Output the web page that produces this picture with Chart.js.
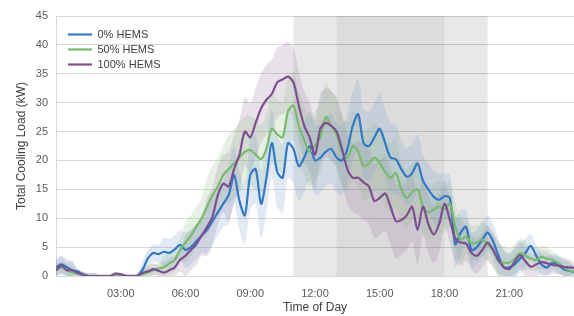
<!DOCTYPE html>
<html>
<head>
<meta charset="utf-8">
<script src="https://cdn.jsdelivr.net/npm/chart.js@4/dist/chart.umd.min.js"></script>
<style>
  html, body { margin: 0; padding: 0; background: #fff; }
  #wrap { width: 574px; height: 316px; }
</style>
</head>
<body>
<div id="wrap"><canvas id="chart"></canvas></div>
<script>
// Time of day in hours, every 15 minutes
const times = Array.from({ length: 97 }, (_, i) => i / 4);

// Total cooling load (kW) at 15 min steps
const hems0 = [
  1.5, 2.0, 1.5, 1.0,  0.8, 0.3, 0, 0,  0, 0, 0, 0,  0, 0, 0, 0,
  1.0, 3.0, 4.0, 3.8,  4.2, 4.0, 4.6, 5.4,  4.5, 5.0, 6.0, 7.0,  8.0, 9.5, 11, 12.5,
  14, 17.5, 13, 10.5,  17.5, 18.5, 12.5, 17,  23, 18, 17, 23,  22, 19, 20.5, 22.5,
  20, 20.5, 21.5, 22,  20.5, 20, 22, 26,  28, 23, 22.5, 24,  25.5, 23, 20.5, 20.2,
  18.5, 17.2, 17.8, 19.5,  16.5, 15, 13.7, 13.2,  13.8, 13.5, 5.5, 7.5,  8.5, 4.5, 5, 6.3,
  7.5, 6, 3.5, 1.5,  1.5, 2, 3, 4,  5.2, 3.5, 2, 1.5,  2.3, 2, 1.2, 0.9,
  0.7
];
const hems50 = [
  1.0, 1.5, 1.0, 0.6,  0.4, 0.1, 0, 0,  0, 0, 0, 0,  0, 0, 0, 0,
  0.3, 0.6, 1.0, 1.3,  1.5, 2.2, 2.8, 4.5,  5.8, 7.0, 8.5, 10,  12, 14, 15.5, 17.5,
  18.5, 19.5, 20.5, 21.5,  21.8, 21, 20.2, 22,  25.5, 24.5, 24, 28.5,  29.5, 26, 23.5, 21.5,
  22.5, 24, 27.5, 26,  24.5, 21.5, 20.5, 22.5,  21.5, 19, 19.5, 20.5,  19.5, 18, 17, 17.8,
  15, 13.5, 14.5, 15,  12, 11, 11.5, 12,  11.5, 12.5, 8.5, 6.3,  6.8, 5.7, 5.8, 6.3,
  5.5, 4.5, 2.5, 2.3,  2.3, 3.0, 4.0, 3.5,  3.0, 2.8, 3.3, 3.0,  2.8, 2.3, 1.6, 1.0,
  0.7
];
const hems100 = [
  1.0, 1.8, 1.0, 1.0,  0.5, 0.2, 0, 0,  0, 0, 0, 0.4,  0.3, 0, 0, 0,
  0.5, 0.8, 1.2, 0.9,  0.6, 1.0, 1.5, 2.8,  3.5, 4.5, 5.5, 7,  8.5, 10.3, 14, 16,
  15.5, 18.5, 21, 25,  24, 26.5, 29, 30.5,  31.5, 33.5, 34, 34.5,  33.5, 29.5, 26, 24,
  21, 25.5, 26.5, 26,  25, 22, 18.5, 17,  17, 16.2, 15.5, 13,  13.5, 14.3, 12, 9.5,
  9.7, 10.5, 12, 8,  12, 9, 7.2, 9,  12.5, 9.7, 6.5, 5.8,  5.6, 4, 3.5, 4.5,
  5.8, 4.5, 2.8, 1.5,  1.2, 2.5, 3.6, 2.5,  1.6, 2.0, 2.4, 2.2,  1.9, 1.8, 1.6, 1.5,
  1.4
];

// Half-width of the shaded spread band, one value per hour (0..24)
const spread0 =   [1.5, 0.5, 0.2, 0.3, 1.5, 2.5, 3, 4, 5, 6, 6, 6, 6, 6, 6, 6, 5, 4.5, 4, 3, 3, 2.5, 2, 1.5, 1];
const spread50 =  [1, 0.5, 0.2, 0.3, 1, 2, 3.5, 5, 6, 6, 6, 6, 6, 6, 6, 6, 5, 4.5, 4, 3, 3, 2.5, 2, 1.5, 1];
const spread100 = [1.5, 0.5, 0.3, 0.3, 1, 2, 3.5, 5, 6, 6, 6, 6, 6, 6, 6.5, 6.5, 6, 5, 4, 3, 3, 2.5, 2, 1.5, 1];

const seriesNames = ['0% HEMS', '50% HEMS', '100% HEMS'];

// Shaded periods of the day (hours)
const shadeFrom = [11, 13];
const shadeTo = [20, 18];

const xTicks = [3, 6, 9, 12, 15, 18, 21];

const lineColors = ['#3378c4', '#79bb6c', '#7d4f8e'];
const bandColors = ['rgba(120,160,205,0.22)', 'rgba(140,185,130,0.22)', 'rgba(150,120,160,0.22)'];
const shadeColors = ['rgba(0,0,0,0.09)', 'rgba(0,0,0,0.055)'];

function pts(vals) {
    return vals.map((v, i) => ({ x: times[i], y: v }));
}

function band(vals, spread, sign) {
    return vals.map((v, i) => ({ x: times[i], y: Math.max(0, v + sign * spread[Math.floor(i / 4)]) }));
}

const seriesVals = [hems0, hems50, hems100];
const spreads = [spread0, spread50, spread100];

const datasets = [];
seriesVals.forEach((vals, k) => {
    datasets.push({
        label: seriesNames[k],
        data: pts(vals),
        borderColor: lineColors[k],
        backgroundColor: lineColors[k],
        borderWidth: 2.2,
        tension: 0.3,
        pointRadius: 0,
        fill: false,
        order: 2 - k
    });
});
seriesVals.forEach((vals, k) => {
    datasets.push({
        label: seriesNames[k] + ' upper',
        data: band(vals, spreads[k], 1),
        borderWidth: 0,
        borderColor: 'transparent',
        backgroundColor: bandColors[k],
        tension: 0.3,
        pointRadius: 0,
        fill: '+1',
        order: 10 + k
    });
    datasets.push({
        label: seriesNames[k] + ' lower',
        data: band(vals, spreads[k], -1),
        borderWidth: 0,
        borderColor: 'transparent',
        tension: 0.3,
        pointRadius: 0,
        fill: false,
        order: 10 + k
    });
});

const shadePlugin = {
    id: 'shade',
    afterLayout(chart) {
        // push the in-plot legend a little down and right
        const lg = chart.legend;
        if (lg) { lg.top += 25; lg.left += 8; }
    },
    beforeDatasetsDraw(chart) {
        const { ctx, chartArea, scales } = chart;
        ctx.save();
        shadeFrom.forEach((from, i) => {
            const x0 = scales.x.getPixelForValue(from);
            const x1 = scales.x.getPixelForValue(shadeTo[i]);
            ctx.fillStyle = shadeColors[i];
            ctx.fillRect(x0, chartArea.top, x1 - x0, chartArea.bottom - chartArea.top);
        });
        ctx.restore();
    }
};

const tickFont = { family: 'Liberation Sans, Arial, sans-serif', size: 11 };
const titleFont = { family: 'Liberation Sans, Arial, sans-serif', size: 12 };

new Chart(document.getElementById('chart'), {
    type: 'line',
    data: { datasets: datasets },
    plugins: [shadePlugin],
    options: {
        responsive: true,
        maintainAspectRatio: false,
        animation: false,
        layout: { padding: { top: 16, right: -2, left: 0, bottom: 0 } },
        plugins: {
            legend: {
                position: 'chartArea',
                align: 'start',
                labels: {
                    usePointStyle: true,
                    pointStyle: 'line',
                    pointStyleWidth: 24,
                    padding: 4,
                    color: '#404040',
                    font: tickFont,
                    filter: item => item.datasetIndex < 3,
                    sort: (a, b) => a.datasetIndex - b.datasetIndex
                }
            },
            tooltip: { enabled: false }
        },
        scales: {
            x: {
                type: 'linear',
                min: 0,
                max: 24,
                afterBuildTicks: scale => {
                    scale.ticks = xTicks.map(v => ({ value: v }));
                },
                ticks: {
                    color: '#595959',
                    font: tickFont,
                    maxRotation: 0,
                    callback: v => String(v).padStart(2, '0') + ':00'
                },
                grid: { display: false },
                border: { display: true, color: '#d9d9d9' },
                title: { display: true, text: 'Time of Day', color: '#404040', font: titleFont, padding: { top: 4, bottom: 1 } },
                afterFit: scale => { scale.height = 40; }
            },
            y: {
                min: 0,
                max: 45,
                ticks: { stepSize: 5, color: '#595959', font: tickFont, padding: 8 },
                grid: { color: '#d9d9d9', drawTicks: false },
                border: { display: true, color: '#d9d9d9' },
                title: { display: true, text: 'Total Cooling Load (kW)', color: '#404040', font: titleFont, padding: { top: 14, bottom: 0 } },
                afterFit: scale => { scale.width = 56; }
            }
        }
    }
});
</script>
</body>
</html>
